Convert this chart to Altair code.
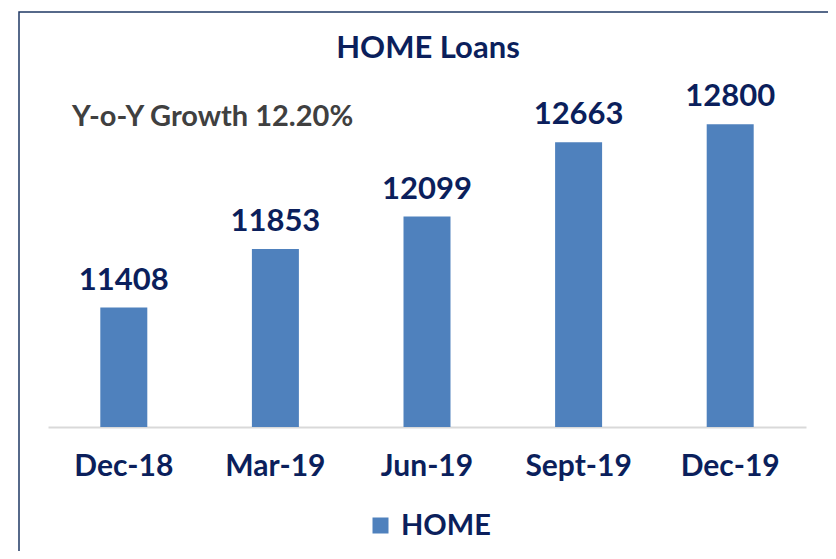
import altair as alt
import pandas as pd

quarters = ["Dec-18", "Mar-19", "Jun-19", "Sept-19", "Dec-19"]
home_values = [11408, 11853, 12099, 12663, 12800]
series_name = "HOME"
chart_title = "HOME Loans"
annotation = "Y-o-Y Growth 12.20%"

df = pd.DataFrame({"quarter": quarters, "value": home_values, "series": [series_name] * len(quarters)})

NAVY = "#0B1F5C"
BAR = "#4F81BD"
FONT = "Lato"

x_enc = alt.X("quarter:N", sort=quarters, title=None,
              scale=alt.Scale(paddingInner=0.69, paddingOuter=0.345),
              axis=alt.Axis(labelAngle=0, labelFont=FONT, labelFontSize=30, labelFontWeight="bold",
                            labelColor=NAVY, labelPadding=24, ticks=False, domainColor="#D9D9D9",
                            domainWidth=2, grid=False))
y_enc = alt.Y("value:Q", title=None, scale=alt.Scale(domain=[10500, 13000], zero=False, nice=False),
              axis=None)

bars = alt.Chart(df).mark_bar(color=BAR, clip=True).encode(
    x=x_enc, y=y_enc,
    color=alt.Color("series:N", scale=alt.Scale(range=[BAR]), title=None,
                    legend=alt.Legend(orient="none", legendX=318, legendY=413, symbolType="square",
                                      symbolSize=256, symbolStrokeWidth=0, labelFont=FONT,
                                      labelFontSize=29, labelFontWeight="bold", labelColor=NAVY,
                                      labelOffset=6)),
)

labels = alt.Chart(df).mark_text(baseline="bottom", dy=-11, font=FONT, fontSize=31,
                                 fontWeight="bold", color=NAVY).encode(
    x=alt.X("quarter:N", sort=quarters), y="value:Q", text=alt.Text("value:Q", format="d"))

note = alt.Chart(pd.DataFrame({"t": [annotation]})).mark_text(
    align="left", baseline="middle", font=FONT, fontSize=29, fontWeight="bold", color="#404040"
).encode(x=alt.value(24), y=alt.value(19), text="t:N")

title = alt.Chart(pd.DataFrame({"t": [chart_title]})).mark_text(
    align="center", baseline="middle", font=FONT, fontSize=31, fontWeight="bold", color=NAVY
).encode(x=alt.value(380), y=alt.value(-49), text="t:N")

border = alt.Chart(pd.DataFrame({"b": [0]})).mark_rect(
    fill=None, stroke="#1F3864", strokeWidth=1.5
).encode(x=alt.value(-29), x2=alt.value(820), y=alt.value(-86), y2=alt.value(500))

chart = alt.layer(border, bars, labels, note, title).properties(
    width=758, height=329,
    autosize=alt.AutoSizeParams(type="none"),
    padding={"left": 40, "top": 90, "right": 22, "bottom": 124},
    background="white",
).configure_view(stroke=None)

chart.save("out.html", embed_options={"renderer": "svg", "actions": False})
